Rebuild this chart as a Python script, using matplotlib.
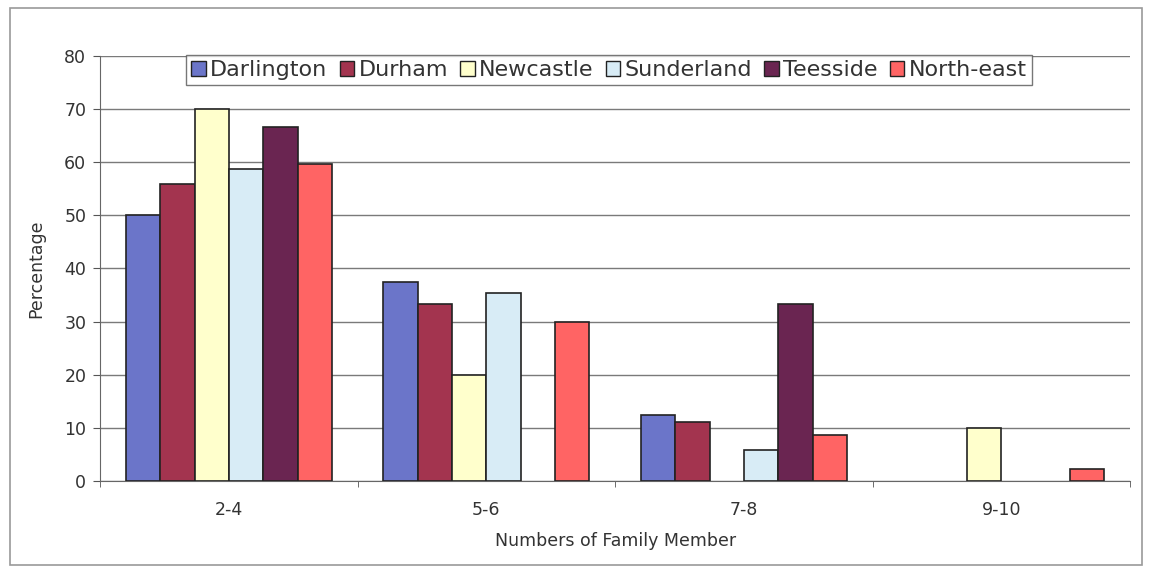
import numpy as np
import matplotlib
matplotlib.use('Agg')
import matplotlib.pyplot as plt
from matplotlib.patches import Rectangle

# data
groups = ['2-4', '5-6', '7-8', '9-10']
regions = ['Darlington', 'Durham', 'Newcastle', 'Sunderland', 'Teesside', 'North-east']
darlington = [50.0, 37.5, 12.5, 0.0]
durham = [55.9, 33.3, 11.1, 0.0]
newcastle = [70.0, 20.0, 0.0, 10.0]
sunderland = [58.8, 35.3, 5.9, 0.0]
teesside = [66.7, 0.0, 33.3, 0.0]
north_east = [59.6, 30.0, 8.7, 2.2]
series = [darlington, durham, newcastle, sunderland, teesside, north_east]
colors = ['#6b75c9', '#a3344f', '#ffffcc', '#d8ecf6', '#6a2551', '#ff6464']

txt = '#333333'
plt.rcParams['font.family'] = ['DejaVu Sans']
plt.rcParams['text.color'] = txt
plt.rcParams['axes.labelcolor'] = txt
plt.rcParams['xtick.labelcolor'] = txt
plt.rcParams['ytick.labelcolor'] = txt

fig = plt.figure(figsize=(11.52, 5.7), dpi=100)
fig.patches.append(Rectangle((0.009, 0.009), 0.982, 0.977, transform=fig.transFigure,
                             fill=False, ec='#9a9a9a', lw=1.2))
ax = fig.add_axes([0.087, 0.156, 0.894, 0.746])

x = np.arange(len(groups))
w = 0.8 / len(regions)
for i, (name, vals, c) in enumerate(zip(regions, series, colors)):
    lws = [1.2 if v > 0 else 0 for v in vals]
    ax.bar(x - 0.4 + w * (i + 0.5), vals, w, color=c, edgecolor='#222222', linewidth=lws,
           label=name, zorder=3)

ax.set_xlim(-0.5, len(groups) - 0.5)
ax.set_ylim(0, 80)
ax.set_yticks(range(0, 81, 10))
ax.yaxis.grid(True, color='#7a7a7a', lw=1.0, zorder=0)
ax.set_xticks(x)
ax.set_xticklabels(groups)
ax.set_xticks(np.arange(-0.5, len(groups)), minor=True)
ax.tick_params(axis='x', which='major', length=0, pad=14, labelsize=12.5)
ax.tick_params(axis='x', which='minor', length=4, color='#555555')
ax.tick_params(axis='y', length=5, color='#555555', labelsize=12.5, pad=5)
for s in ['top', 'right']:
    ax.spines[s].set_visible(False)
for s in ['left', 'bottom']:
    ax.spines[s].set_color('#666666')
ax.set_ylabel('Percentage', fontsize=12.5, labelpad=14)
ax.set_xlabel('Numbers of Family Member', fontsize=12.5, labelpad=10)

leg = ax.legend(loc='upper center', bbox_to_anchor=(0.494, 1.002), ncol=6, fontsize=16,
                frameon=True, fancybox=False, edgecolor='#555555', handlelength=0.65,
                handleheight=0.65, handletextpad=0.2, columnspacing=0.55, borderpad=0.22,
                borderaxespad=0)
leg.get_frame().set_linewidth(1.0)
for h in leg.legend_handles:
    h.set_linewidth(1.0)

plt.savefig('out.png', dpi=100)
